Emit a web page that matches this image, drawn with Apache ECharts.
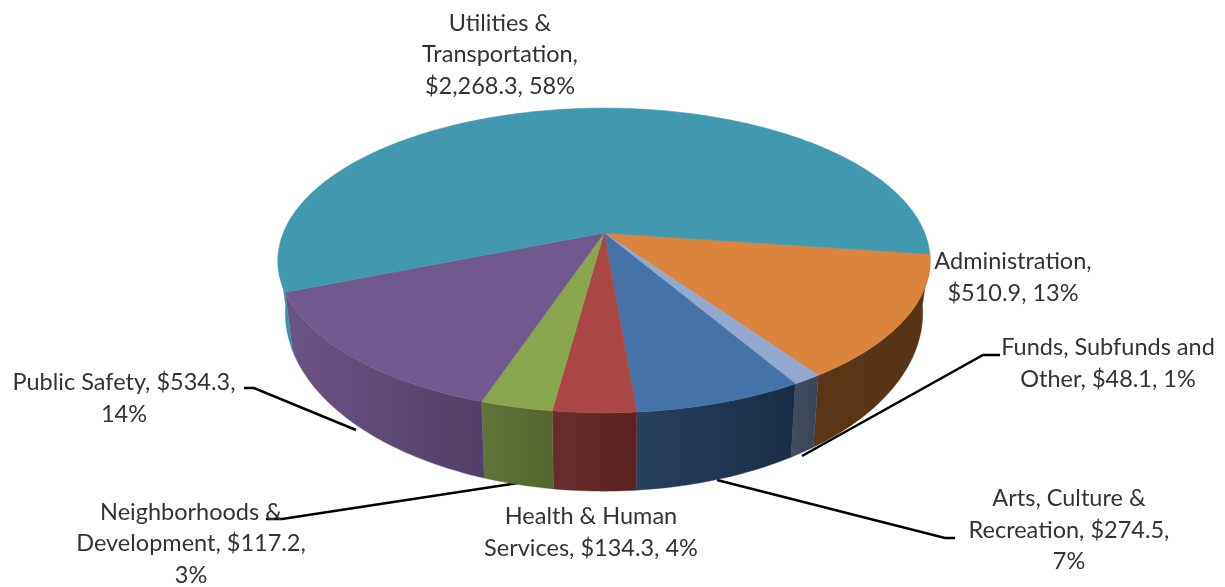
<!DOCTYPE html>
<html><head><meta charset="utf-8">
<style>html,body{margin:0;padding:0;background:#fff}#c{width:1225px;height:587px}</style>
<script src="https://cdn.jsdelivr.net/npm/echarts@6/dist/echarts.min.js"></script>
</head><body><div id="c"></div>
<script>
const categories = ['Administration','Funds, Subfunds and Other','Arts, Culture & Recreation','Health & Human Services','Neighborhoods & Development','Public Safety','Utilities & Transportation'];
const values = [510.9,48.1,274.5,134.3,117.2,534.3,2268.3];
const labelTexts = [
 'Administration,\n$510.9, 13%',
 'Funds, Subfunds and\nOther, $48.1, 1%',
 'Arts, Culture &\nRecreation, $274.5,\n7%',
 'Health & Human\nServices, $134.3, 4%',
 'Neighborhoods &\nDevelopment, $117.2,\n3%',
 'Public Safety, $534.3,\n14%',
 'Utilities &\nTransportation,\n$2,268.3, 58%'];
const topColors = ['#DA843D','#93A9CF','#4572A7','#AA4643','#89A54E','#71588F','#4198AF'];
const wallColors = [['#5a3617','#583416'],['#414e62','#394559'],['#27415f','#1a2c46'],['#692d2c','#5a2120'],['#60733a','#54662e'],['#6b5386','#523e66'],['#4198AF','#3a8a9f']];
const labelCenters = [[1013,277.5],[1108,363.5],[1069,530],[591,532.5],[191,543.5],[124,398.5],[500,54.5]];
const leaders = [
 [[1000,355],[983,355],[802,456]],
 [[955,538],[945,538],[717,480]],
 [[266,519],[282,519],[518,483]],
 [[244,388],[254,388],[356,430]]];

// pie geometry: a circle seen in perspective, top rim and lower rim
const CX=604, CY=233, F=1780, G=818, D=5.55, START=8;
const CY2=280.6, F2=1740, G2=958;
function topPt(a){const t=a*Math.PI/180,X=Math.cos(t),Y=Math.sin(t);return [CX+F*X/(D-Y),CY+G*Y/(D-Y)];}
function botPt(a){const t=a*Math.PI/180,X=Math.cos(t),Y=Math.sin(t);return [CX+F2*X/(D-Y),CY2+G2*Y/(D-Y)];}
const total=values.reduce((s,v)=>s+v,0);
const starts=[];let acc=START;values.forEach(v=>{starts.push(acc);acc+=v/total*360;});
function arc(fn,a0,a1){const n=Math.max(2,Math.ceil(Math.abs(a1-a0)));const r=[];for(let i=0;i<=n;i++)r.push(fn(a0+(a1-a0)*i/n));return r;}

function renderTop(params,api){
 const i=params.dataIndex,a0=starts[i],a1=a0+api.value(0)/total*360;
 return {type:'polygon',shape:{points:[[CX,CY]].concat(arc(topPt,a0,a1))},
  style:{fill:topColors[i],stroke:topColors[i],lineWidth:.6}};
}
function renderWall(params,api){
 const i=params.dataIndex;let a0=starts[i],a1=a0+api.value(0)/total*360;
 a1=Math.min(a1,172);
 if(a0>=a1) return null;
 const c=wallColors[i];
 return {type:'polygon',shape:{points:arc(topPt,a0,a1).concat(arc(botPt,a1,a0))},
  style:{fill:{type:'linear',x:0,y:0,x2:1,y2:0,colorStops:[{offset:0,color:c[0]},{offset:1,color:c[1]}]},stroke:c[0],lineWidth:.4}};
}
const rows=values.map((v,i)=>({name:categories[i],value:[v]}));
const textEls=labelTexts.map((t,i)=>({type:'text',z:10,x:labelCenters[i][0],y:labelCenters[i][1],
 style:{text:t,font:'23.5px Lato',fill:'#333',align:'center',verticalAlign:'middle',lineHeight:31.5}}));
const lineEls=leaders.map(p=>({type:'polyline',z:1,shape:{points:p},style:{stroke:'#000',lineWidth:2.5,fill:null}}));
const chart=echarts.init(document.getElementById('c'),null,{renderer:'canvas'});
chart.setOption({animation:false,backgroundColor:'#fff',
 graphic:{elements:lineEls.concat(textEls)},
 series:[
  {type:'custom',coordinateSystem:'none',z:2,silent:true,data:rows,renderItem:renderWall,encode:{value:0}},
  {type:'custom',coordinateSystem:'none',z:3,silent:true,data:rows,renderItem:renderTop,encode:{value:0}}
 ]});
</script></body></html>
